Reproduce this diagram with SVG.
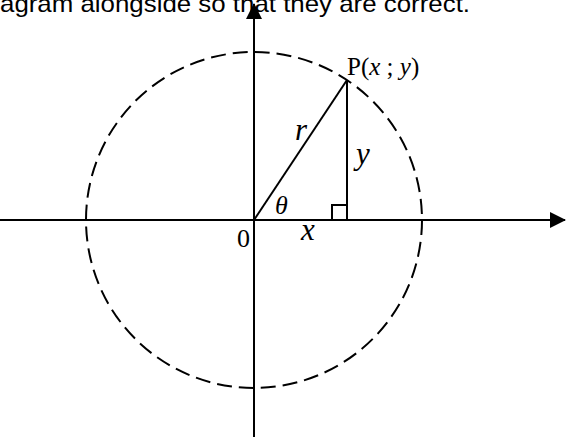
<svg xmlns="http://www.w3.org/2000/svg" width="572" height="438" viewBox="0 0 572 438">
<defs>
<style>
.ax{stroke:#000;stroke-width:2;fill:none}
.ln{stroke:#000;stroke-width:2;fill:none}
.circ{stroke:#000;stroke-width:2;fill:none;stroke-dasharray:15 7}
.lbl{font-family:"Liberation Serif","Times New Roman",serif;font-size:25px;fill:#000}
.big{font-size:31px}
.it{font-style:italic}
.hdr{font-family:"Liberation Sans",Arial,sans-serif;font-size:24px;fill:#000}
</style>
<marker id="arr" markerUnits="userSpaceOnUse" markerWidth="16" markerHeight="16" refX="15" refY="8" orient="auto" viewBox="0 0 16 16">
<path d="M0,0 L16,8 L0,16 Z" fill="#000"/>
</marker>
</defs>
<text class="hdr" x="0" y="12" textLength="470" lengthAdjust="spacingAndGlyphs">agram alongside so that they are correct.</text>
<g id="circle"><circle class="circ" cx="254" cy="220" r="168"/></g>
<g id="connectors">
<line class="ax" x1="0" y1="220" x2="565" y2="220" marker-end="url(#arr)"/>
<line class="ax" x1="254" y1="437" x2="254" y2="4" marker-end="url(#arr)"/>
<line class="ln" x1="254" y1="220" x2="347" y2="80"/>
<line class="ln" x1="347" y1="80" x2="347" y2="220"/>
<rect class="ln" x="332" y="205" width="15" height="15"/>
</g>
<g id="labels">
<text class="lbl" x="347" y="75">P(<tspan class="it">x</tspan> ; <tspan class="it">y</tspan>)</text>
<text class="lbl it big" x="295" y="140">r</text>
<text class="lbl it big" x="356" y="164">y</text>
<text class="lbl it" x="275" y="214" style="font-size:26px">θ</text>
<text class="lbl it big" x="301" y="240">x</text>
<text class="lbl" x="237" y="247" style="font-size:26px">0</text>
</g>
</svg>
